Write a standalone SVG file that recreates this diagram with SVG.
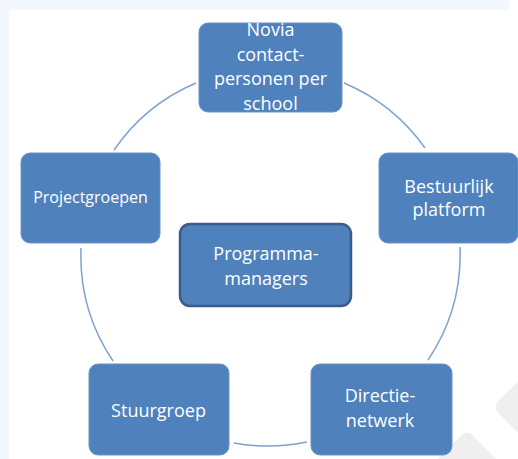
<svg xmlns="http://www.w3.org/2000/svg" width="518" height="459" viewBox="0 0 518 459">
  <style>
    .node { fill: #4f81bd; stroke: #6a93c6; stroke-width: 1; }
    .center { fill: #4f81bd; stroke: #385d8a; stroke-width: 2.5; }
    .lbl { fill: #ffffff; font-family: "Open Sans", "Liberation Sans", sans-serif; font-size: 18px; text-anchor: middle; }
    .small { font-size: 16px; }
    .arc { fill: none; stroke: #7fa2cf; stroke-width: 1.5; }
    .wm { fill: #efefef; }
  </style>
  <rect x="0" y="0" width="518" height="459" fill="#ffffff"/>
  <rect x="0" y="0" width="509" height="10" fill="#f3f7fe"/>
  <rect x="0" y="0" width="9" height="459" fill="#f3f7fe"/>
  <g id="watermark">
    <rect class="wm" x="-30" y="-30" width="60" height="60" rx="8" transform="translate(535 407) rotate(45)"/>
    <rect class="wm" x="-25" y="-25" width="50" height="50" rx="7" transform="translate(467 465) rotate(45)"/>
  </g>
  <g id="connectors">
    <path class="arc" d="M344,83 A189,189 0 0 1 425,148"/>
    <path class="arc" d="M460,247 A189,189 0 0 1 428,360"/>
    <path class="arc" d="M307,442 A189,189 0 0 1 234,443"/>
    <path class="arc" d="M113,361 A189,189 0 0 1 81,248"/>
    <path class="arc" d="M114,150 A189,189 0 0 1 196,83"/>
  </g>
  <g id="novia">
    <rect class="node" x="199" y="23" width="143" height="89" rx="9"/>
    <text class="lbl" x="270.5" y="36">Novia</text>
    <text class="lbl" x="270.5" y="60.7">contact-</text>
    <text class="lbl" x="270.5" y="85.4">personen per</text>
    <text class="lbl" x="270.5" y="110">school</text>
  </g>
  <g id="bestuurlijk">
    <rect class="node" x="379" y="153" width="139" height="90" rx="9"/>
    <text class="lbl" x="449" y="193">Bestuurlijk</text>
    <text class="lbl" x="449" y="216">platform</text>
  </g>
  <g id="directie">
    <rect class="node" x="311" y="364" width="141" height="91" rx="9"/>
    <text class="lbl" x="380" y="402">Directie-</text>
    <text class="lbl" x="380" y="427">netwerk</text>
  </g>
  <g id="stuurgroep">
    <rect class="node" x="89" y="364" width="140" height="91" rx="9"/>
    <text class="lbl" x="158.5" y="417">Stuurgroep</text>
  </g>
  <g id="projectgroepen">
    <rect class="node" x="21" y="153" width="139" height="90" rx="9"/>
    <text class="lbl small" x="90.5" y="203">Projectgroepen</text>
  </g>
  <g id="programmamanagers">
    <rect class="center" x="180" y="224" width="171" height="82" rx="10"/>
    <text class="lbl" x="266" y="260">Programma-</text>
    <text class="lbl" x="266" y="285">managers</text>
  </g>
</svg>
